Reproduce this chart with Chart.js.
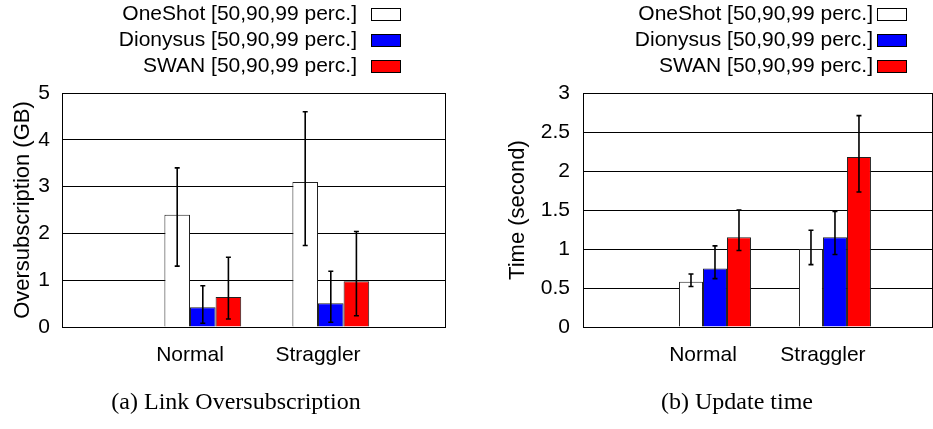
<!DOCTYPE html>
<html>
<head>
<meta charset="utf-8">
<script src="https://cdn.jsdelivr.net/npm/chart.js@4.4.1/dist/chart.umd.min.js"></script>
<style>
  html, body { margin: 0; padding: 0; background: #fff; }
  #wrap { position: relative; width: 933px; height: 429px; overflow: hidden; background: #fff; }
  canvas { position: absolute; top: 0; }
  #cA { left: 0; }
  #cB { left: 466px; }
  .cap { position: absolute; top: 389px; font-family: "Liberation Serif", "Times New Roman", serif;
         font-size: 24px; line-height: 1; color: #000; white-space: nowrap; transform: translateX(-50%); }
</style>
</head>
<body>
<div id="wrap">
  <canvas id="cA" width="466" height="429"></canvas>
  <canvas id="cB" width="467" height="429"></canvas>
  <div class="cap" style="left:236px">(a) Link Oversubscription</div>
  <div class="cap" style="left:737px">(b) Update time</div>
</div>
<script>
// Scenarios on the x axis
const categories = ['Normal', 'Straggler'];
const seriesNames = ['OneShot [50,90,99 perc.]', 'Dionysus [50,90,99 perc.]', 'SWAN [50,90,99 perc.]'];
const seriesColors = ['#ffffff', '#0000ff', '#ff0000'];

// (a) Link oversubscription in GB: median bar, 90th..99th percentile whiskers
const overOneShot = [2.4, 3.1];
const overOneShotLo = [1.3, 1.74];
const overOneShotHi = [3.4, 4.6];
const overDionysus = [0.42, 0.51];
const overDionysusLo = [0.08, 0.1];
const overDionysusHi = [0.88, 1.19];
const overSwan = [0.64, 0.98];
const overSwanLo = [0.17, 0.24];
const overSwanHi = [1.49, 2.04];
const overTicks = [0, 1, 2, 3, 4, 5];

// (b) Update time in seconds
const timeOneShot = [0.58, 1.0];
const timeOneShotLo = [0.52, 0.8];
const timeOneShotHi = [0.68, 1.24];
const timeDionysus = [0.75, 1.15];
const timeDionysusLo = [0.62, 0.93];
const timeDionysusHi = [1.04, 1.48];
const timeSwan = [1.15, 2.18];
const timeSwanLo = [0.98, 1.73];
const timeSwanHi = [1.5, 2.71];
const timeTicks = [0, 0.5, 1, 1.5, 2, 2.5, 3];

const SANS = '"Liberation Sans", Arial, Helvetica, sans-serif';

// Whiskers for every bar, drawn through the chart's own scales
const errorBars = {
  id: 'errorBars',
  afterDatasetsDraw(chart) {
    const { ctx } = chart;
    const y = chart.scales.y;
    ctx.save();
    ctx.strokeStyle = '#000';
    ctx.lineWidth = 1.6;
    chart.data.datasets.forEach((ds, di) => {
      const meta = chart.getDatasetMeta(di);
      meta.data.forEach((bar, i) => {
        const x = bar.x;
        const yl = y.getPixelForValue(ds.lo[i]);
        const yh = y.getPixelForValue(ds.hi[i]);
        ctx.beginPath();
        ctx.moveTo(x, yl); ctx.lineTo(x, yh);
        ctx.moveTo(x - 2.5, yl); ctx.lineTo(x + 2.5, yl);
        ctx.moveTo(x - 2.5, yh); ctx.lineTo(x + 2.5, yh);
        ctx.stroke();
      });
    });
    ctx.restore();
  }
};

// Closed frame round the plot area
const frame = {
  id: 'frame',
  afterDatasetsDraw(chart) {
    const { ctx, chartArea: a } = chart;
    ctx.save();
    ctx.strokeStyle = '#000';
    ctx.lineWidth = 1;
    ctx.strokeRect(Math.round(a.left) + 0.5, Math.round(a.top) + 0.5,
                   Math.round(a.right - a.left) - 1, Math.round(a.bottom - a.top));
    ctx.restore();
  }
};

// Key above the plot: label text followed by a swatch
const keyBox = {
  id: 'keyBox',
  afterDraw(chart, args, opts) {
    const { ctx } = chart;
    ctx.save();
    ctx.font = '21px ' + SANS;
    ctx.textAlign = 'right';
    ctx.textBaseline = 'alphabetic';
    chart.data.datasets.forEach((ds, i) => {
      const top = opts.top + i * opts.step;
      ctx.fillStyle = '#000';
      ctx.fillText(ds.label, opts.textRight, top + 11.5);
      ctx.fillStyle = ds.backgroundColor;
      ctx.fillRect(opts.boxX, top, 30, 13);
      ctx.strokeStyle = '#000';
      ctx.lineWidth = 1;
      ctx.strokeRect(opts.boxX + 0.5, top + 0.5, 29, 12);
    });
    ctx.restore();
  }
};

function makeDatasets(vals, los, his) {
  return seriesNames.map((name, s) => ({
    label: name,
    data: categories.map((c, i) => ({ x: i, y: vals[s][i] })),
    lo: los[s],
    hi: his[s],
    backgroundColor: seriesColors[s],
    borderColor: '#222',
    borderWidth: 1,
    categoryPercentage: 0.6,
    barPercentage: 1.0
  }));
}

function makeChart(canvas, cfg) {
  return new Chart(canvas, {
    type: 'bar',
    data: { datasets: makeDatasets(cfg.vals, cfg.los, cfg.his) },
    options: {
      responsive: false,
      animation: false,
      devicePixelRatio: 1,
      layout: { padding: { top: 93, right: cfg.padRight, bottom: 0, left: 0 } },
      plugins: {
        legend: { display: false },
        tooltip: { enabled: false },
        keyBox: cfg.key
      },
      scales: {
        x: {
          type: 'linear',
          offset: false,
          min: cfg.xMin,
          max: cfg.xMax,
          grid: { display: false, offset: false },
          border: { display: false },
          afterBuildTicks(axis) {
            axis.ticks = categories.map((c, i) => ({ value: i - 0.1 }));
          },
          afterFit(scale) { scale.height = 102; },
          ticks: {
            autoSkip: false,
            maxRotation: 0,
            padding: 8,
            color: '#000',
            font: { family: SANS, size: 21 },
            callback: (v, idx) => categories[idx]
          }
        },
        y: {
          min: cfg.yTicks[0],
          max: cfg.yTicks[cfg.yTicks.length - 1],
          afterBuildTicks(axis) {
            axis.ticks = cfg.yTicks.map(v => ({ value: v }));
          },
          afterFit(scale) { scale.width = cfg.yWidth; },
          grid: { color: '#000', lineWidth: 1, drawTicks: false },
          border: { display: false },
          ticks: {
            padding: cfg.yPad,
            color: '#000',
            font: { family: SANS, size: 21 },
            callback: v => String(v)
          },
          title: {
            display: true,
            text: cfg.yTitle,
            color: '#000',
            font: { family: SANS, size: 22 },
            padding: { top: cfg.titlePad, bottom: 0 }
          }
        }
      }
    },
    plugins: [frame, errorBars, keyBox]
  });
}

makeChart(document.getElementById('cA'), {
  vals: [overOneShot, overDionysus, overSwan],
  los: [overOneShotLo, overDionysusLo, overSwanLo],
  his: [overOneShotHi, overDionysusHi, overSwanHi],
  yTicks: overTicks,
  yTitle: 'Oversubscription (GB)',
  yWidth: 62, yPad: 12, titlePad: 10,
  xMin: -1.1, xMax: 1.9, padRight: 20,
  key: { textRight: 357, boxX: 371, top: 8, step: 26 }
});

makeChart(document.getElementById('cB'), {
  vals: [timeOneShot, timeDionysus, timeSwan],
  los: [timeOneShotLo, timeDionysusLo, timeSwanLo],
  his: [timeOneShotHi, timeDionysusHi, timeSwanHi],
  yTicks: timeTicks,
  yTitle: 'Time (second)',
  yWidth: 117, yPad: 13, titlePad: 39,
  xMin: -1.1, xMax: 1.817, padRight: 0,
  key: { textRight: 407, boxX: 411, top: 8, step: 26 }
});
</script>
</body>
</html>
